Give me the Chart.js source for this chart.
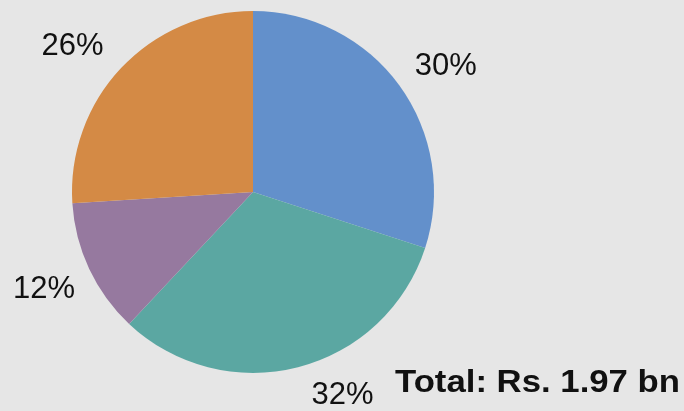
<!DOCTYPE html>
<html>
<head>
<meta charset="utf-8">
<script src="https://cdn.jsdelivr.net/npm/chart.js@4"></script>
<style>
  html, body { margin: 0; padding: 0; background: #e6e6e6; }
  #wrap { position: relative; width: 684px; height: 411px; }
</style>
</head>
<body>
<div id="wrap"><canvas id="pieChart" width="684" height="411"></canvas></div>
<script>
// slices, clockwise from 12 o'clock
const categories = ['A', 'B', 'C', 'D'];
const shares = [30, 32, 12, 26];
const totalLabel = 'Total: Rs. 1.97 bn';

const sliceColors = ['#6390cb', '#5ba7a2', '#96799f', '#d48a45'];
// small hand nudges for the outside labels (px)
const labelNudge = [[6, 10], [32, -6], [0, -1], [-12, 13]];

const outsideLabels = {
    id: 'outsideLabels',
    afterDatasetsDraw(chart) {
        const ctx = chart.ctx;
        const arcs = chart.getDatasetMeta(0).data;
        ctx.save();
        ctx.font = '31px "Liberation Sans", Arial, sans-serif';
        ctx.fillStyle = '#111';
        ctx.textAlign = 'center';
        ctx.textBaseline = 'middle';
        arcs.forEach(function(arc, i) {
            const mid = (arc.startAngle + arc.endAngle) / 2;
            const r = arc.outerRadius + 50;
            let x = arc.x + Math.cos(mid) * r + labelNudge[i][0];
            let y = arc.y + Math.sin(mid) * r + labelNudge[i][1];
            y = Math.min(y, chart.height - 16);
            ctx.fillText(shares[i] + '%', x, y);
        });
        // total caption, bottom right
        ctx.font = 'bold 31px "Liberation Sans", Arial, sans-serif';
        ctx.textAlign = 'right';
        ctx.textBaseline = 'alphabetic';
        const w = ctx.measureText(totalLabel).width;
        const sx = 285 / w;
        ctx.translate(chart.width - 4, 392);
        ctx.scale(sx, 1);
        ctx.fillText(totalLabel, 0, 0);
        ctx.restore();
    }
};

new Chart(document.getElementById('pieChart'), {
    type: 'pie',
    data: {
        labels: categories,
        datasets: [{
            data: shares,
            backgroundColor: sliceColors,
            borderWidth: 0
        }]
    },
    options: {
        responsive: false,
        animation: false,
        layout: {
            padding: { left: 72, right: 250, top: 11, bottom: 38 }
        },
        plugins: {
            legend: { display: false },
            tooltip: { enabled: false }
        }
    },
    plugins: [outsideLabels]
});
</script>
</body>
</html>
